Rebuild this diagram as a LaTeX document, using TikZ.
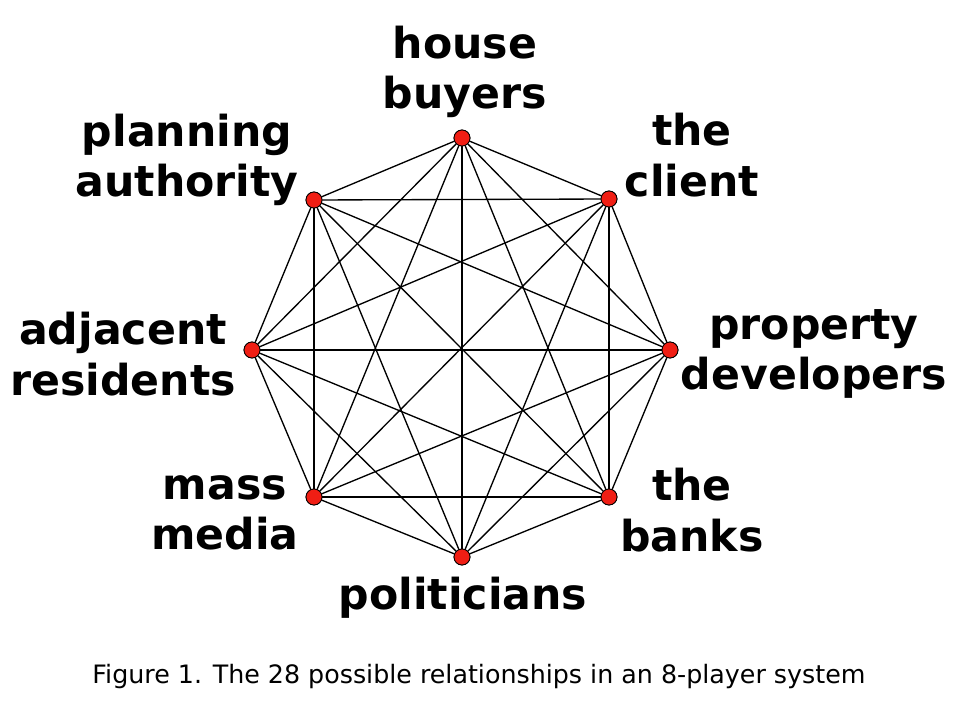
\documentclass[tikz,border=0pt]{standalone}
\usepackage{fontspec}
\setmainfont{DejaVu Sans}
\usepackage{tikz}
\usetikzlibrary{positioning}

\tikzset{
    player/.style={circle, fill={rgb,255:red,240;green,30;blue,20}, draw=black, line width=0.6pt, inner sep=0pt, minimum size=12pt},
    who/.style={font=\fontsize{32}{38}\selectfont\bfseries, align=center},
    link/.style={line width=1pt}
}

\begin{document}
\begin{tikzpicture}[x=0.75pt, y=-0.75pt]
        \useasboundingbox (0, 0) rectangle (979, 709);

        % the eight players
        \node (p1) [player] at (462, 138) {};
        \node (p2) [player] at (609, 199) {};
        \node (p3) [player] at (670, 350) {};
        \node (p4) [player] at (609, 497) {};
        \node (p5) [player] at (462, 557) {};
        \node (p6) [player] at (314, 497) {};
        \node (p7) [player] at (252, 350) {};
        \node (p8) [player] at (314, 200) {};

        % every pair
        \foreach \i in {1,...,7} {
            \pgfmathtruncatemacro{\first}{\i+1}
            \foreach \j in {\first,...,8}
                \draw [link] (p\i) -- (p\j);
        }
        \foreach \i in {1,...,8}
            \node [player] at (p\i) {};

        \node (l1) [who] at (465, 72) {house\\buyers};
        \node (l2) [who] at (692, 155) {the\\client};
        \node (l3) [who] at (814, 354) {property\\developers};
        \node (l4) [who] at (692, 510) {the\\banks};
        \node (l5) [who] at (463, 598) {politicians};
        \node (l6) [who] at (225, 513) {mass\\media};
        \node (l7) [who] at (123, 354) {adjacent\\residents};
        \node (l8) [who] at (187, 160) {planning\\authority};

        \node (cap) [font=\fontsize{19}{22}\selectfont] at (479, 677) {Figure 1. The 28 possible relationships in an 8-player system};
    \end{tikzpicture}
\end{document}
